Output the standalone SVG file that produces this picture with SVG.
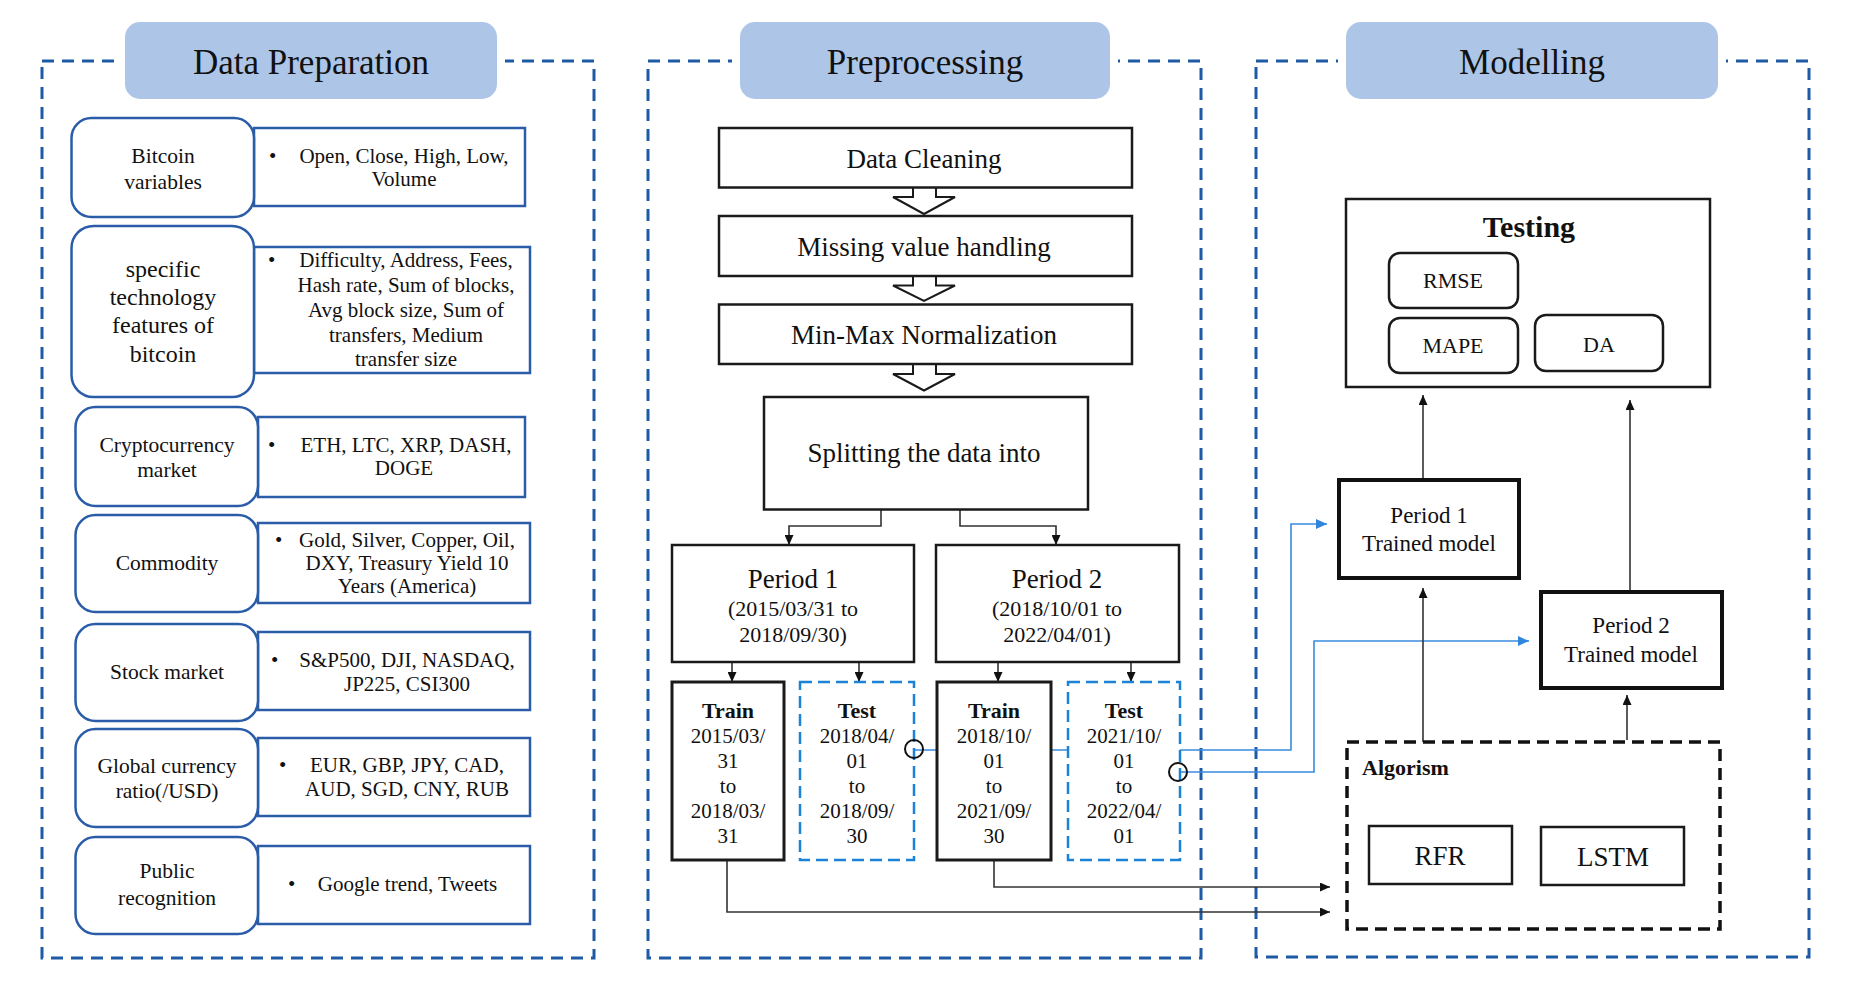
<svg xmlns="http://www.w3.org/2000/svg" width="1849" height="993" viewBox="0 0 1849 993">
<defs>
<style>
text{font-family:"Liberation Serif","Times New Roman",serif;fill:#111;}
.panel{fill:none;stroke:#1f5aa6;stroke-width:3;stroke-dasharray:12 8;}
.title{fill:#adc6e8;}
.cat{fill:#fff;stroke:#2a5ca8;stroke-width:2.5;}
.det{fill:#fff;stroke:#2a5ca8;stroke-width:2.5;}
.box{fill:#fff;stroke:#1a1a1a;stroke-width:2.5;}
.tbox{fill:#fff;stroke:#1a1a1a;stroke-width:3;}
.mbox{fill:#fff;stroke:#111;stroke-width:4;}
.test{fill:#fff;stroke:#1b82d8;stroke-width:2.5;stroke-dasharray:12 6;}
.alg{fill:none;stroke:#111;stroke-width:3.5;stroke-dasharray:12 7;}
.conn{fill:none;stroke:#333;stroke-width:1.6;}
.bconn{fill:none;stroke:#3a8ae0;stroke-width:1.6;}
.hollow{fill:#fff;stroke:#1a1a1a;stroke-width:2;}
.circ{fill:none;stroke:#111;stroke-width:2;}
.t35{font-size:35px;text-anchor:middle;}
.t27{font-size:27px;text-anchor:middle;}
.t24{font-size:24px;text-anchor:middle;}
.t23{font-size:23px;text-anchor:middle;}
.t22{font-size:22px;text-anchor:middle;}
.t21{font-size:21px;text-anchor:middle;}
.lab{font-size:21.5px;text-anchor:middle;}
.bul{font-size:21px;}
.b22{font-size:22px;font-weight:bold;text-anchor:middle;}
.b30{font-size:30px;font-weight:bold;text-anchor:middle;}
</style>
<marker id="ah" viewBox="0 0 10 9" refX="10" refY="4.5" markerWidth="10" markerHeight="9" markerUnits="userSpaceOnUse" orient="auto"><path d="M0,0 L10,4.5 L0,9 z" fill="#111"/></marker>
<marker id="ahb" viewBox="0 0 10 9" refX="10" refY="4.5" markerWidth="11" markerHeight="10" markerUnits="userSpaceOnUse" orient="auto"><path d="M0,0 L10,4.5 L0,9 z" fill="#2f86dc"/></marker>
</defs>
<rect width="1849" height="993" fill="#fff"/>

<!-- Panels -->
<g id="panel-data-preparation">
<rect class="panel" x="42" y="61" width="552" height="897"/>
<rect x="117" y="54" width="388" height="14" fill="#fff"/>
<rect class="title" x="125" y="22" width="372" height="77" rx="15"/>
<text class="t35" x="311" y="74">Data Preparation</text>
</g>
<g id="panel-preprocessing">
<rect class="panel" x="648" y="61" width="553" height="897"/>
<rect x="732" y="54" width="386" height="14" fill="#fff"/>
<rect class="title" x="740" y="22" width="370" height="77" rx="15"/>
<text class="t35" x="925" y="74">Preprocessing</text>
</g>
<g id="panel-modelling">
<rect class="panel" x="1256" y="61" width="553" height="896"/>
<rect x="1338" y="54" width="388" height="14" fill="#fff"/>
<rect class="title" x="1346" y="22" width="372" height="77" rx="15"/>
<text class="t35" x="1532" y="74">Modelling</text>
</g>

<!-- Connectors -->
<g id="connectors">
<path class="conn" d="M881,509.5 V526 H789 V545" marker-end="url(#ah)"/>
<path class="conn" d="M960,509.5 V526 H1056 V545" marker-end="url(#ah)"/>
<path class="conn" d="M732,662 V682" marker-end="url(#ah)"/>
<path class="conn" d="M859,662 V682" marker-end="url(#ah)"/>
<path class="conn" d="M998,662 V682" marker-end="url(#ah)"/>
<path class="conn" d="M1131,662 V682" marker-end="url(#ah)"/>
<path class="conn" d="M727,860 V912 H1330" marker-end="url(#ah)"/>
<path class="conn" d="M994,860 V887 H1330" marker-end="url(#ah)"/>
<path class="bconn" d="M914,750 H1291 V524 H1327" marker-end="url(#ahb)"/>
<path class="bconn" d="M1178,772 H1314 V641 H1529" marker-end="url(#ahb)"/>
<path class="conn" d="M1423,478 V395" marker-end="url(#ah)"/>
<path class="conn" d="M1630,590 V400" marker-end="url(#ah)"/>
<path class="conn" d="M1423,742 V588" marker-end="url(#ah)"/>
<path class="conn" d="M1627,740 V695" marker-end="url(#ah)"/>
<path class="hollow" d="M913,187.5 V197 H893 L924,214 L955,197 H936 V187.5"/>
<path class="hollow" d="M913,276 V285.5 H893 L924,301 L955,285.5 H936 V276"/>
<path class="hollow" d="M913,364 V374 H893 L924,390.5 L955,374 H936 V364"/>
</g>

<!-- Data preparation rows -->
<g id="row-bitcoin-variables">
<rect class="det" x="254" y="128" width="271" height="78"/>
<rect class="cat" x="71.5" y="118" width="182.5" height="99" rx="20"/>
<text class="lab" x="163" y="163">Bitcoin</text>
<text class="lab" x="163" y="189">variables</text>
<text class="bul" x="269" y="163">•</text>
<text class="t21" x="404" y="163">Open, Close, High, Low,</text>
<text class="t21" x="404" y="186">Volume</text>
</g>
<g id="row-technology-features">
<rect class="det" x="254" y="247" width="276" height="126"/>
<rect class="cat" x="71.5" y="226" width="182.5" height="171" rx="22"/>
<text class="t24" x="163" y="277">specific</text>
<text class="t24" x="163" y="305">technology</text>
<text class="t24" x="163" y="333">features of</text>
<text class="t24" x="163" y="362">bitcoin</text>
<text class="bul" x="268" y="267">•</text>
<text class="t21" x="406" y="267">Difficulty, Address, Fees,</text>
<text class="t21" x="406" y="292">Hash rate, Sum of blocks,</text>
<text class="t21" x="406" y="317">Avg block size, Sum of</text>
<text class="t21" x="406" y="342">transfers, Medium</text>
<text class="t21" x="406" y="366">transfer size</text>
</g>
<g id="row-cryptocurrency-market">
<rect class="det" x="258" y="417" width="267" height="80"/>
<rect class="cat" x="75.5" y="407" width="182.5" height="99" rx="20"/>
<text class="lab" x="167" y="452">Cryptocurrency</text>
<text class="lab" x="167" y="477">market</text>
<text class="bul" x="268" y="452">•</text>
<text class="t21" x="406" y="452">ETH, LTC, XRP, DASH,</text>
<text class="t21" x="404" y="475">DOGE</text>
</g>
<g id="row-commodity">
<rect class="det" x="258" y="523" width="272" height="80"/>
<rect class="cat" x="75.5" y="515" width="182.5" height="97" rx="20"/>
<text class="lab" x="167" y="570">Commodity</text>
<text class="bul" x="275" y="547">•</text>
<text class="t21" x="407" y="547">Gold, Silver, Copper, Oil,</text>
<text class="t21" x="407" y="570">DXY, Treasury Yield 10</text>
<text class="t21" x="407" y="593">Years (America)</text>
</g>
<g id="row-stock-market">
<rect class="det" x="258" y="632" width="272" height="78"/>
<rect class="cat" x="75.5" y="624" width="182.5" height="97" rx="20"/>
<text class="lab" x="167" y="679">Stock market</text>
<text class="bul" x="271" y="667">•</text>
<text class="t21" x="407" y="667">S&amp;P500, DJI, NASDAQ,</text>
<text class="t21" x="407" y="691">JP225, CSI300</text>
</g>
<g id="row-global-currency">
<rect class="det" x="258" y="738" width="272" height="78"/>
<rect class="cat" x="75.5" y="729" width="182.5" height="98" rx="20"/>
<text class="lab" x="167" y="773">Global currency</text>
<text class="lab" x="167" y="798">ratio(/USD)</text>
<text class="bul" x="279" y="772">•</text>
<text class="t21" x="407" y="772">EUR, GBP, JPY, CAD,</text>
<text class="t21" x="407" y="796">AUD, SGD, CNY, RUB</text>
</g>
<g id="row-public-recognition">
<rect class="det" x="258" y="846" width="272" height="78"/>
<rect class="cat" x="75.5" y="837" width="182.5" height="97" rx="20"/>
<text class="lab" x="167" y="878">Public</text>
<text class="lab" x="167" y="905">recognition</text>
<text class="bul" x="288" y="891">•</text>
<text class="t21" x="407.5" y="891">Google trend, Tweets</text>
</g>

<!-- Preprocessing nodes -->
<g id="data-cleaning">
<rect class="box" x="719" y="128" width="413" height="59.5"/>
<text class="t27" x="924" y="168">Data Cleaning</text>
</g>
<g id="missing-value">
<rect class="box" x="719" y="216" width="413" height="60"/>
<text class="t27" x="924" y="256">Missing value handling</text>
</g>
<g id="min-max">
<rect class="box" x="719" y="304.5" width="413" height="59.5"/>
<text class="t27" x="924" y="344">Min-Max Normalization</text>
</g>
<g id="splitting">
<rect class="box" x="764" y="397" width="324" height="112.5"/>
<text class="t27" x="924" y="462">Splitting the data into</text>
</g>
<g id="period1">
<rect class="box" x="672" y="545" width="242" height="117"/>
<text class="t27" x="793" y="588">Period 1</text>
<text class="t22" x="793" y="616">(2015/03/31 to</text>
<text class="t22" x="793" y="642">2018/09/30)</text>
</g>
<g id="period2">
<rect class="box" x="936" y="545" width="243" height="117"/>
<text class="t27" x="1057" y="588">Period 2</text>
<text class="t22" x="1057" y="616">(2018/10/01 to</text>
<text class="t22" x="1057" y="642">2022/04/01)</text>
</g>
<g id="train1">
<rect class="tbox" x="672" y="682" width="112" height="178"/>
<text class="b22" x="728" y="718">Train</text>
<text class="t21" x="728" y="743">2015/03/</text>
<text class="t21" x="728" y="768">31</text>
<text class="t21" x="728" y="793">to</text>
<text class="t21" x="728" y="818">2018/03/</text>
<text class="t21" x="728" y="843">31</text>
</g>
<g id="test1">
<rect class="test" x="800" y="682" width="114" height="178"/>
<text class="b22" x="857" y="718">Test</text>
<text class="t21" x="857" y="743">2018/04/</text>
<text class="t21" x="857" y="768">01</text>
<text class="t21" x="857" y="793">to</text>
<text class="t21" x="857" y="818">2018/09/</text>
<text class="t21" x="857" y="843">30</text>
</g>
<g id="train2">
<rect class="tbox" x="937" y="682" width="114" height="178"/>
<text class="b22" x="994" y="718">Train</text>
<text class="t21" x="994" y="743">2018/10/</text>
<text class="t21" x="994" y="768">01</text>
<text class="t21" x="994" y="793">to</text>
<text class="t21" x="994" y="818">2021/09/</text>
<text class="t21" x="994" y="843">30</text>
</g>
<g id="test2">
<rect class="test" x="1068" y="682" width="112" height="178"/>
<text class="b22" x="1124" y="718">Test</text>
<text class="t21" x="1124" y="743">2021/10/</text>
<text class="t21" x="1124" y="768">01</text>
<text class="t21" x="1124" y="793">to</text>
<text class="t21" x="1124" y="818">2022/04/</text>
<text class="t21" x="1124" y="843">01</text>
</g>

<!-- Modelling nodes -->
<g id="testing">
<rect class="box" x="1346" y="199" width="364" height="188"/>
<text class="b30" x="1529" y="237">Testing</text>
<rect class="box" x="1389" y="253" width="129" height="55" rx="11"/>
<text class="t22" x="1453" y="288">RMSE</text>
<rect class="box" x="1389" y="318" width="129" height="55" rx="11"/>
<text class="t22" x="1453" y="353">MAPE</text>
<rect class="box" x="1535" y="315" width="128" height="56" rx="11"/>
<text class="t22" x="1599" y="352">DA</text>
</g>
<g id="period1-model">
<rect class="mbox" x="1339" y="480" width="180" height="98"/>
<text class="t23" x="1429" y="523">Period 1</text>
<text class="t23" x="1429" y="551">Trained model</text>
</g>
<g id="period2-model">
<rect class="mbox" x="1541" y="592" width="181" height="96"/>
<text class="t23" x="1631" y="633">Period 2</text>
<text class="t23" x="1631" y="662">Trained model</text>
</g>
<g id="algorism">
<rect class="alg" x="1347" y="742" width="373" height="187"/>
<text x="1362" y="775" style="font-size:22px;font-weight:bold;">Algorism</text>
<rect class="box" x="1369" y="826" width="143" height="58"/>
<text class="t27" x="1440" y="865">RFR</text>
<rect class="box" x="1541" y="827" width="143" height="58"/>
<text class="t27" x="1613" y="866">LSTM</text>
</g>

<g id="junctions">
<circle class="circ" cx="914" cy="749" r="9"/>
<circle class="circ" cx="1178" cy="772" r="9"/>
</g>
</svg>
